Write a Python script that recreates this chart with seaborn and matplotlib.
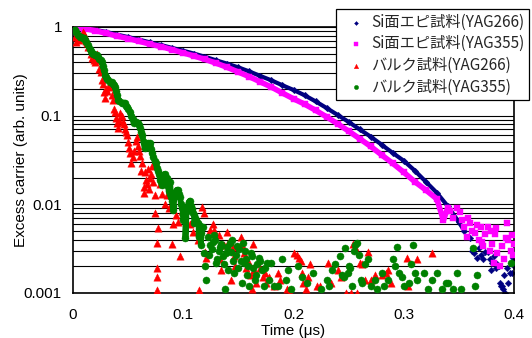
import numpy as np
import pandas as pd
import matplotlib
matplotlib.use("Agg")
import matplotlib.pyplot as plt
import seaborn as sns
from matplotlib.ticker import LogLocator, NullFormatter, FixedLocator

# ---------------- data ----------------
labels = ["Si面エピ試料(YAG266)", "Si面エピ試料(YAG355)", "バルク試料(YAG266)", "バルク試料(YAG355)"]
colors = ["#000080", "#FF00FF", "#FF0000", "#008000"]

# Si epi, YAG266 (smooth part then noisy tail)
si266_t = [0.00, 0.01, 0.02, 0.03, 0.04, 0.05, 0.06, 0.07, 0.08, 0.09, 0.10, 0.11, 0.12, 0.13,
           0.14, 0.15, 0.16, 0.17, 0.18, 0.19, 0.20, 0.21, 0.22, 0.23, 0.24, 0.25, 0.26, 0.27,
           0.28, 0.29, 0.30, 0.31, 0.32, 0.33, 0.34, 0.35, 0.355,
           0.360, 0.362, 0.364, 0.366, 0.368, 0.370, 0.372, 0.374, 0.376, 0.378, 0.380, 0.382,
           0.384, 0.386, 0.388, 0.390, 0.392, 0.394, 0.396, 0.398, 0.399, 0.400, 0.387, 0.389,
           0.391, 0.385, 0.379, 0.395]
si266_y = [1.0, 0.97, 0.93, 0.88, 0.82, 0.77, 0.72, 0.67, 0.625, 0.58, 0.54, 0.50, 0.46, 0.42,
           0.385, 0.35, 0.315, 0.28, 0.25, 0.22, 0.195, 0.17, 0.145, 0.122, 0.102, 0.085, 0.07, 0.058,
           0.047, 0.038, 0.031, 0.024, 0.018, 0.0135, 0.0095, 0.0063, 0.005,
           0.0042, 0.0030, 0.0028, 0.0025, 0.0032, 0.0027, 0.0024, 0.0029, 0.0029, 0.0024, 0.0022, 0.0026,
           0.0019, 0.0020, 0.0012, 0.0011, 0.0010, 0.0019, 0.0017, 0.0017, 0.0025, 0.0020, 0.0013, 0.0012,
           0.0016, 0.0021, 0.0018, 0.0013]

# Si epi, YAG355
si355_t = [0.00, 0.01, 0.02, 0.03, 0.04, 0.05, 0.06, 0.07, 0.08, 0.09, 0.10, 0.11, 0.12, 0.13,
           0.14, 0.15, 0.16, 0.17, 0.18, 0.19, 0.20, 0.21, 0.22, 0.23, 0.24, 0.25, 0.26, 0.27,
           0.28, 0.29, 0.30, 0.31, 0.32, 0.33, 0.34,
           0.336, 0.342, 0.345, 0.348, 0.351, 0.353, 0.355, 0.357, 0.360, 0.362, 0.365, 0.368,
           0.370, 0.372, 0.374, 0.376, 0.378, 0.380, 0.382, 0.384, 0.385, 0.387, 0.389, 0.391,
           0.393, 0.395, 0.397, 0.399, 0.400, 0.383, 0.379, 0.371, 0.366, 0.358, 0.394, 0.398]
si355_y = [1.0, 0.96, 0.91, 0.85, 0.79, 0.74, 0.69, 0.64, 0.60, 0.555, 0.51, 0.47, 0.43, 0.39,
           0.35, 0.31, 0.275, 0.24, 0.21, 0.18, 0.155, 0.135, 0.115, 0.097, 0.081, 0.067, 0.055, 0.045,
           0.036, 0.029, 0.023, 0.018, 0.0145, 0.0115, 0.0092,
           0.0066, 0.0085, 0.0070, 0.0092, 0.0081, 0.0066, 0.0055, 0.0043, 0.0062, 0.0050, 0.0048, 0.0040,
           0.0056, 0.0034, 0.0046, 0.0056, 0.0030, 0.0036, 0.0022, 0.0054, 0.0028, 0.0020, 0.0034, 0.0024,
           0.0042, 0.0040, 0.0030, 0.0027, 0.0036, 0.0046, 0.0050, 0.0038, 0.0058, 0.0070, 0.0062, 0.0045]

# Bulk, YAG266
bk266_t = [0.000, 0.002, 0.003, 0.005, 0.007, 0.009, 0.011, 0.012, 0.014, 0.016, 0.017, 0.019,
           0.020, 0.022, 0.023, 0.025, 0.026, 0.028, 0.029, 0.031, 0.033, 0.034, 0.036, 0.037,
           0.039, 0.040, 0.041, 0.043, 0.044, 0.046, 0.048, 0.049, 0.050, 0.052, 0.053, 0.055,
           0.058, 0.059, 0.061, 0.063, 0.064, 0.064, 0.065, 0.067, 0.068, 0.070, 0.072, 0.074,
           0.074, 0.076, 0.076, 0.076, 0.076, 0.077, 0.079, 0.081, 0.083, 0.085, 0.087, 0.090,
           0.091, 0.093, 0.095, 0.097, 0.099, 0.102, 0.104, 0.106, 0.109, 0.111, 0.113, 0.114,
           0.117, 0.119, 0.120, 0.121, 0.124, 0.127, 0.128, 0.132, 0.133, 0.134, 0.137, 0.140,
           0.141, 0.142, 0.143, 0.145, 0.146, 0.147, 0.152, 0.153, 0.155, 0.156, 0.157, 0.160,
           0.161, 0.162, 0.163, 0.164, 0.166, 0.170, 0.172, 0.174, 0.175, 0.178, 0.182, 0.186,
           0.188, 0.194, 0.197, 0.200, 0.203, 0.205, 0.207, 0.208, 0.209, 0.211, 0.213, 0.215,
           0.221, 0.224, 0.231, 0.234, 0.240, 0.243, 0.248, 0.252, 0.254, 0.256, 0.258, 0.260,
           0.262, 0.265, 0.268, 0.270, 0.274, 0.280, 0.284, 0.286, 0.288, 0.303, 0.304, 0.312,
           0.326, 0.010, 0.013, 0.018, 0.024, 0.027, 0.030, 0.035, 0.038, 0.042, 0.045, 0.047,
           0.051, 0.054, 0.057, 0.060, 0.062, 0.066, 0.069, 0.071, 0.073]
bk266_y = [1.0, 0.77, 0.68, 0.72, 0.80, 0.88, 0.80, 0.70, 0.60, 0.50, 0.45, 0.42,
           0.40, 0.50, 0.42, 0.31, 0.25, 0.185, 0.16, 0.19, 0.22, 0.21, 0.15, 0.12,
           0.095, 0.083, 0.073, 0.107, 0.10, 0.08, 0.065, 0.06, 0.05, 0.038, 0.029, 0.04,
           0.058, 0.045, 0.035, 0.029, 0.0157, 0.0134, 0.023, 0.017, 0.025, 0.020, 0.027, 0.0127,
           0.008, 0.0037, 0.0019, 0.0015, 0.00107, 0.0054, 0.017, 0.013, 0.010, 0.0127, 0.009, 0.0036,
           0.006, 0.0075, 0.0063, 0.0026, 0.0085, 0.007, 0.0104, 0.006, 0.0049, 0.0065, 0.004, 0.00107,
           0.0094, 0.008, 0.0029, 0.0025, 0.0052, 0.006, 0.0052, 0.0045, 0.0024, 0.0018, 0.0035, 0.0049,
           0.0037, 0.0038, 0.0014, 0.0033, 0.0026, 0.0020, 0.0043, 0.0035, 0.0028, 0.0024, 0.0019, 0.0022,
           0.0016, 0.0011, 0.0036, 0.0018, 0.0013, 0.0019, 0.0015, 0.0017, 0.0013, 0.0015, 0.0012, 0.0017,
           0.0014, 0.0011, 0.0010, 0.0028, 0.0027, 0.0025, 0.0023, 0.0017, 0.0013, 0.0011, 0.0015, 0.0021,
           0.0012, 0.0012, 0.0022, 0.0013, 0.0018, 0.0015, 0.0010, 0.0010, 0.0036, 0.0033, 0.0010, 0.0022,
           0.0021, 0.0014, 0.0029, 0.0014, 0.0016, 0.0016, 0.0017, 0.0018, 0.0013, 0.0025, 0.0012, 0.0024,
           0.0028, 0.84, 0.66, 0.46, 0.34, 0.23, 0.20, 0.17, 0.11, 0.09, 0.085, 0.07,
           0.043, 0.034, 0.052, 0.040, 0.024, 0.019, 0.015, 0.022, 0.018]

# Bulk, YAG355
bk355_t = [0.000, 0.002, 0.003, 0.0045, 0.006, 0.007, 0.009, 0.010, 0.011, 0.012, 0.0136, 0.015,
           0.016, 0.017, 0.018, 0.019, 0.020, 0.022, 0.023, 0.024, 0.025, 0.026, 0.027, 0.028,
           0.029, 0.030, 0.031, 0.032, 0.034, 0.035, 0.036, 0.037, 0.038, 0.039, 0.040, 0.041,
           0.042, 0.044, 0.045, 0.047, 0.048, 0.049, 0.050, 0.052, 0.053, 0.054, 0.055, 0.056,
           0.057, 0.059, 0.060, 0.061, 0.062, 0.063, 0.064, 0.065, 0.066, 0.067, 0.068, 0.070,
           0.071, 0.072, 0.073, 0.074, 0.075, 0.076, 0.077, 0.078, 0.079, 0.080, 0.081, 0.082,
           0.083, 0.084, 0.085, 0.086, 0.087, 0.088, 0.089, 0.090, 0.091, 0.092, 0.093, 0.094,
           0.095, 0.096, 0.097, 0.098, 0.099, 0.100, 0.101, 0.102, 0.103, 0.104, 0.105, 0.106,
           0.107, 0.108, 0.109, 0.110, 0.111, 0.112, 0.113, 0.114, 0.115, 0.116, 0.117,
           0.118, 0.119, 0.120, 0.121, 0.122, 0.124, 0.126, 0.128, 0.129, 0.131, 0.132, 0.134,
           0.136, 0.137, 0.138, 0.140, 0.142, 0.143, 0.145, 0.146, 0.148, 0.150, 0.151, 0.153,
           0.154, 0.155, 0.157, 0.158, 0.160, 0.161, 0.163, 0.165, 0.167, 0.169, 0.171, 0.173,
           0.176, 0.178, 0.180, 0.182, 0.186, 0.190, 0.193, 0.195, 0.198, 0.204, 0.208, 0.212,
           0.218, 0.225, 0.230, 0.232, 0.235, 0.238, 0.242, 0.244, 0.246, 0.247, 0.249, 0.250,
           0.251, 0.253, 0.255, 0.256, 0.258, 0.259, 0.261, 0.262, 0.265, 0.268, 0.270, 0.274,
           0.276, 0.280, 0.282, 0.286, 0.290, 0.292, 0.294, 0.296, 0.298, 0.300, 0.305, 0.307,
           0.308, 0.310, 0.312, 0.318, 0.322, 0.326, 0.330, 0.335, 0.338, 0.340, 0.345, 0.348,
           0.352, 0.363, 0.365, 0.366, 0.397,
           0.085, 0.088, 0.091, 0.100, 0.102, 0.106, 0.110, 0.114, 0.116, 0.123, 0.127, 0.130,
           0.133, 0.139, 0.141, 0.144, 0.149, 0.152, 0.156, 0.159, 0.162, 0.166, 0.170, 0.174]
bk355_y = [1.0, 0.92, 0.87, 0.81, 0.78, 0.77, 0.75, 0.75, 0.72, 0.68, 0.63, 0.57,
           0.54, 0.51, 0.49, 0.49, 0.48, 0.48, 0.46, 0.44, 0.42, 0.40, 0.36, 0.33,
           0.29, 0.27, 0.26, 0.25, 0.24, 0.24, 0.23, 0.22, 0.21, 0.19, 0.17, 0.15,
           0.145, 0.14, 0.14, 0.14, 0.13, 0.125, 0.12, 0.11, 0.10, 0.092, 0.083, 0.085,
           0.085, 0.083, 0.078, 0.072, 0.066, 0.06, 0.05, 0.043, 0.045, 0.047, 0.049, 0.049,
           0.042, 0.038, 0.034, 0.031, 0.029, 0.026, 0.024, 0.022, 0.019, 0.018, 0.0165, 0.019,
           0.022, 0.020, 0.017, 0.016, 0.014, 0.013, 0.012, 0.011, 0.0095, 0.012, 0.0135, 0.0145,
           0.0145, 0.013, 0.012, 0.010, 0.009, 0.0075, 0.0068, 0.007, 0.0085, 0.0095, 0.0105, 0.011,
           0.0095, 0.0088, 0.0080, 0.0075, 0.0070, 0.0066, 0.0062, 0.0058, 0.0052, 0.0047, 0.0056,
           0.0056, 0.0028, 0.0020, 0.0014, 0.0043, 0.0035, 0.0031, 0.0045, 0.0040, 0.0024, 0.0030, 0.0036,
           0.0026, 0.0021, 0.0011, 0.0033, 0.0037, 0.0029, 0.0023, 0.0017, 0.0027, 0.0019, 0.0031, 0.0013,
           0.0037, 0.0022, 0.0024, 0.0016, 0.0012, 0.0028, 0.0019, 0.0014, 0.0021, 0.0025, 0.0018, 0.0012,
           0.0022, 0.0014, 0.0022, 0.0012, 0.0012, 0.0024, 0.0014, 0.0018, 0.0011, 0.0020, 0.0015, 0.0013,
           0.0017, 0.0011, 0.0014, 0.0012, 0.0018, 0.0021, 0.0026, 0.0016, 0.0015, 0.0032, 0.0017, 0.0020,
           0.0019, 0.0012, 0.0030, 0.0035, 0.0037, 0.0027, 0.0014, 0.0013, 0.0021, 0.0024, 0.0012, 0.0014,
           0.0011, 0.0017, 0.0012, 0.0014, 0.0024, 0.0020, 0.0033, 0.0017, 0.0015, 0.0012, 0.0013, 0.0021,
           0.0035, 0.0017, 0.0014, 0.0017, 0.0011, 0.0014, 0.0017, 0.0011, 0.0013, 0.0013, 0.0011, 0.0017,
           0.0011, 0.0032, 0.0012, 0.0016, 0.0022,
           0.020, 0.018, 0.0086, 0.0067, 0.0042, 0.0093, 0.0062, 0.0043, 0.0035, 0.0027, 0.0038, 0.0022,
           0.0033, 0.0028, 0.0018, 0.0040, 0.0034, 0.0023, 0.0030, 0.0020, 0.0026, 0.0016, 0.0023, 0.0019]

x_ticks = [0.0, 0.1, 0.2, 0.3, 0.4]
x_ticklabels = ["0", "0.1", "0.2", "0.3", "0.4"]
y_ticks = [0.001, 0.01, 0.1, 1.0]
y_ticklabels = ["0.001", "0.01", "0.1", "1"]
smooth_end = [0.355, 0.34, None, 0.117]   # end of the continuous band of each series

# ---------------- plotting ----------------
sns.set_theme(style="white")
plt.rcParams['font.family'] = ['Liberation Sans', 'DejaVu Sans']

fig = plt.figure(figsize=(5.32, 3.38), dpi=100)
ax = fig.add_axes([73/532, 1-293/338, 441/532, 266/338])

series = [
    (si266_t, si266_y, 'D', 11, 3.0),
    (si355_t, si355_y, 's', 18, 4.0),
    (bk266_t, bk266_y, '^', 28, None),
    (bk355_t, bk355_y, 'o', 26, 4.2),
]
for i, (t, y, mk, sz, lw) in enumerate(series):
    df = pd.DataFrame({"t": t, "y": y})
    if lw is not None:
        d2 = df[df["t"] <= smooth_end[i]].iloc[:120]
        d2 = d2.sort_values("t", kind="stable")
        sns.lineplot(data=d2, x="t", y="y", ax=ax, color=colors[i], lw=lw,
                     sort=False, estimator=None, legend=False, zorder=2+i)
    sns.scatterplot(data=df, x="t", y="y", ax=ax, marker=mk, s=sz, color=colors[i],
                    edgecolor=colors[i], linewidth=0.3, label=labels[i], zorder=2+i)

ax.set_yscale('log')
ax.set_xlim(0, 0.4)
ax.set_ylim(0.001, 1)
ax.set_xticks(x_ticks)
ax.set_xticklabels(x_ticklabels)
ax.yaxis.set_major_locator(FixedLocator(y_ticks))
ax.set_yticklabels(y_ticklabels)
ax.yaxis.set_minor_locator(LogLocator(base=10, subs=np.arange(2, 10)))
ax.yaxis.set_minor_formatter(NullFormatter())
ax.grid(False)
ax.grid(True, axis='y', which='both', color='black', lw=0.8)
ax.set_axisbelow(True)
ax.tick_params(axis='both', which='major', direction='in', length=4, width=1,
               color='black', labelsize=11, labelcolor='black')
ax.tick_params(axis='x', pad=11)
ax.tick_params(axis='y', pad=8)
ax.tick_params(axis='y', which='minor', length=0)
for sp in ax.spines.values():
    sp.set_color('black')
    sp.set_linewidth(1.2)
    sp.set_visible(True)

ax.set_xlabel("Time (μs)", fontsize=11, color='black')
ax.set_ylabel("Excess carrier (arb. units)", fontsize=11, color='black')
ax.xaxis.set_label_coords(0.5, -0.118)
ax.yaxis.set_label_coords(-0.103, 0.5)

leg = ax.legend(loc='upper right', bbox_to_anchor=(529/532, 1-9/338),
                bbox_transform=fig.transFigure, frameon=True, fancybox=False,
                edgecolor='black', framealpha=1, borderaxespad=0, markerscale=0.6,
                handlelength=2.0, handletextpad=0.0, borderpad=0.3, labelspacing=0.3,
                prop={'family': ['Noto Sans CJK JP', 'DejaVu Sans'], 'size': 11})
leg.get_frame().set_linewidth(0.9)
leg.set_zorder(10)

fig.savefig("out.png", dpi=100)
